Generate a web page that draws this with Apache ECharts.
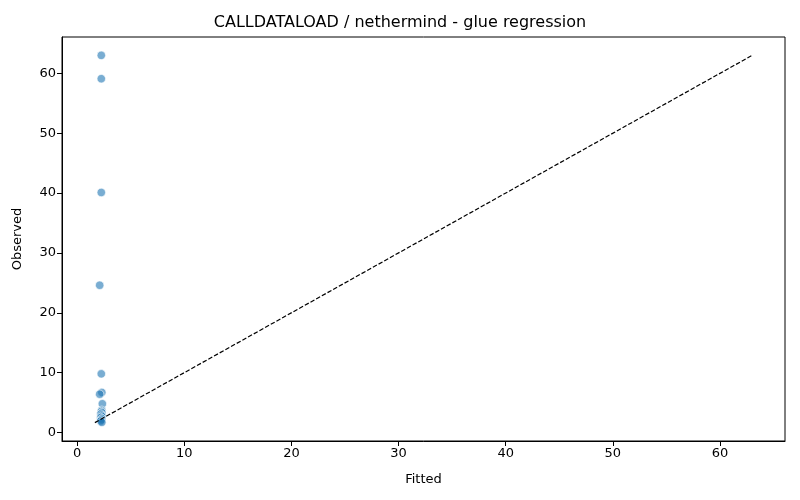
<!DOCTYPE html>
<html><head><meta charset="utf-8">
<script src="https://cdn.jsdelivr.net/npm/echarts@6/dist/echarts.min.js"></script>
<style>html,body{margin:0;padding:0;background:#fff}#c{width:800px;height:500px}</style>
</head><body><div id="c"></div>
<script>
const fitted   = [2.25, 2.25, 2.25, 2.1, 2.25, 2.3, 2.1, 2.35, 2.3, 2.25, 2.3, 2.2, 2.25, 2.3, 2.2, 2.3, 2.25, 2.2, 2.3];
const observed = [63.0, 59.1, 40.1, 24.6, 9.8, 6.7, 6.4, 4.8, 3.7, 3.5, 3.3, 3.1, 2.9, 2.7, 2.5, 2.3, 2.1, 1.9, 1.7];
const refLine  = [1.65, 63.0];
const xTicks = [0, 10, 20, 30, 40, 50, 60];
const yTicks = [0, 10, 20, 30, 40, 50, 60];

const pts = fitted.map((f, i) => [f, observed[i]]);
const lo = refLine[0], hi = refLine[1];
const pad = (hi - lo) * 0.05;
const font = 'DejaVu Sans';
const tickFmt = ticks => v => ticks.includes(Math.round(v * 1000) / 1000) ? String(v) : '';
const chart = echarts.init(document.getElementById('c'));
chart.setOption({
  animation: false,
  title: { text: 'CALLDATALOAD / nethermind - glue regression', left: 'center', top: 10,
    textStyle: { fontFamily: font, fontSize: 16, fontWeight: 'normal', color: '#000' } },
  grid: { left: 62, right: 15, top: 37, bottom: 59, show: true, borderColor: '#000', borderWidth: 1 },
  xAxis: { type: 'value', min: lo - pad, max: hi + pad, splitNumber: 7,
    name: 'Fitted', nameLocation: 'middle', nameGap: 32,
    nameTextStyle: { fontFamily: font, fontSize: 13, color: '#000' },
    axisLine: { show: true, onZero: false, lineStyle: { color: '#000' } },
    axisTick: { show: true, length: 5, lineStyle: { color: '#000' } },
    axisLabel: { fontFamily: font, fontSize: 13, color: '#000', margin: 6, showMinLabel: false, showMaxLabel: false,
      formatter: tickFmt(xTicks) },
    splitLine: { show: false } },
  yAxis: { type: 'value', min: lo - pad, max: hi + pad, splitNumber: 7,
    name: 'Observed', nameLocation: 'middle', nameGap: 38, nameRotate: 90,
    nameTextStyle: { fontFamily: font, fontSize: 13, color: '#000' },
    axisLine: { show: true, onZero: false, lineStyle: { color: '#000' } },
    axisTick: { show: true, length: 5, lineStyle: { color: '#000' } },
    axisLabel: { fontFamily: font, fontSize: 13, color: '#000', margin: 6, showMinLabel: false, showMaxLabel: false,
      formatter: tickFmt(yTicks) },
    splitLine: { show: false } },
  series: [
    { type: 'line', data: [[lo, lo], [hi, hi]], symbol: 'none', silent: true,
      lineStyle: { color: '#000', width: 1.2, type: [4.5, 2] }, z: 3 },
    { type: 'scatter', data: pts, symbolSize: 8.5,
      itemStyle: { color: 'rgba(31,119,180,0.75)', borderColor: '#fff', borderWidth: 0.8 }, z: 2 }
  ]
});
</script></body></html>
